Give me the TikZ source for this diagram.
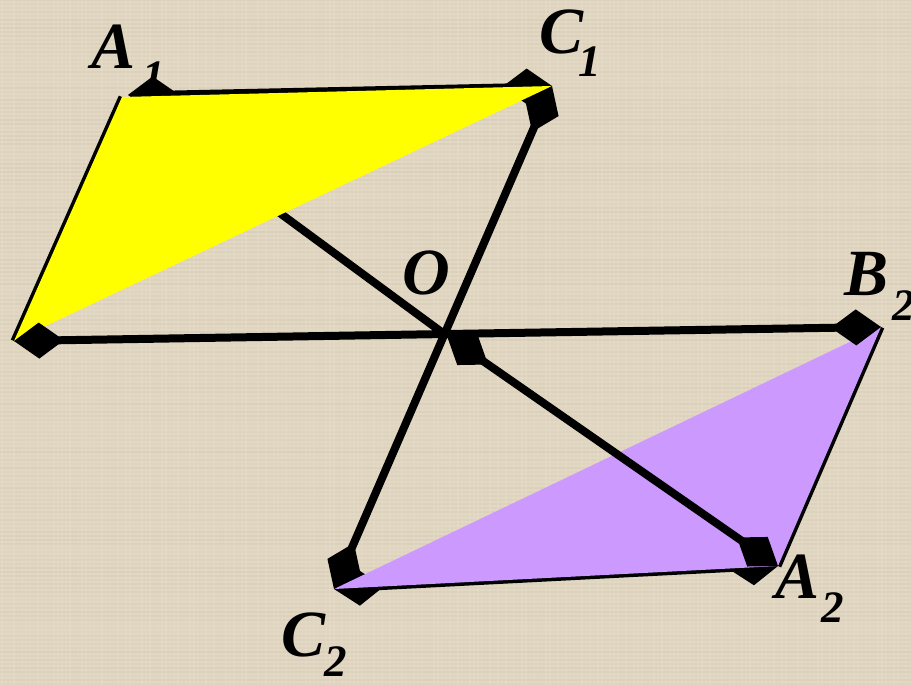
\documentclass[tikz,border=0pt]{standalone}
\usepackage{fontspec}
\setmainfont{Liberation Serif}
\usetikzlibrary{arrows.meta}
\definecolor{bg}{RGB}{225,215,194}
\definecolor{bgdark}{RGB}{200,188,165}
\definecolor{bglight}{RGB}{238,230,212}
\definecolor{ylw}{RGB}{255,255,0}
\definecolor{prp}{RGB}{204,153,255}
\begin{document}
\begin{tikzpicture}[x=1pt,y=-1pt,
  bigline/.style={line width=8pt, draw=black},
  edgeline/.style={line width=7pt, draw=black},
  dtip/.tip={Diamond[length=50pt,width=36pt,line width=0pt]},
  lbl/.style={font=\fontsize{66}{66}\selectfont\bfseries\itshape, inner sep=0pt, anchor=base},
  sublbl/.style={font=\fontsize{45}{45}\selectfont\bfseries\itshape, inner sep=0pt, anchor=base},
  grain/.style={line width=1.2pt}]
\useasboundingbox (0,0) rectangle (911,685);
\fill[bg] (0,0) rectangle (911,685);
% linen texture
\pgfmathsetseed{7}
\foreach \k in {0,4,...,684}{
  \pgfmathsetmacro{\op}{0.08+0.22*rnd}
  \draw[grain, bgdark, opacity=\op] (0,\k) -- (911,\k);
}
\foreach \k in {2,6,...,910}{
  \pgfmathsetmacro{\op}{0.06+0.2*rnd}
  \draw[grain, bglight, opacity=\op] (\k,0) -- (\k,685);
}
% points
\coordinate (A1) at (122,97);
\coordinate (A1e) at (128,95);
\coordinate (C1) at (552,86);
\coordinate (B1) at (14,341);
\coordinate (O) at (447,336);
\coordinate (B2) at (881,327);
\coordinate (A2) at (778,566);
\coordinate (C2) at (334,589);
% labels
\node[lbl] (lA1) at (114,69) {A};
\node[sublbl] (sA1) at (154,92) {1};
\node[lbl] (lC1) at (562,54) {C};
\node[sublbl] (sC1) at (590,77) {1};
\node[lbl] (lO) at (426,294) {O};
\node[lbl] (lB2) at (867,295) {B};
\node[sublbl] (sB2) at (904,320) {2};
\node[lbl] (lA2) at (798,598) {A};
\node[sublbl] (sA2) at (833,622) {2};
\node[lbl] (lC2) at (304,656) {C};
\node[sublbl] (sC2) at (336,676) {2};
% hidden part of A1A2
\draw[bigline, dtip-] (A1) -- (O);
% triangle edges
\draw[edgeline] (A1) -- (B1);
\draw[edgeline, dtip-dtip] (A1e) -- (C1);
\draw[edgeline] (B2) -- (A2);
\draw[edgeline, dtip-dtip] (C2) -- (A2);
% fills
\fill[ylw] (A1) -- (C1) -- (B1) -- cycle;
\fill[prp] (B2) -- (A2) -- (C2) -- cycle;
% through lines
\draw[bigline, dtip-dtip] (C1) -- (C2);
\draw[bigline, dtip-dtip] (B1) -- (B2);
\draw[bigline, dtip-dtip] (O) -- (A2);
\end{tikzpicture}
\end{document}
